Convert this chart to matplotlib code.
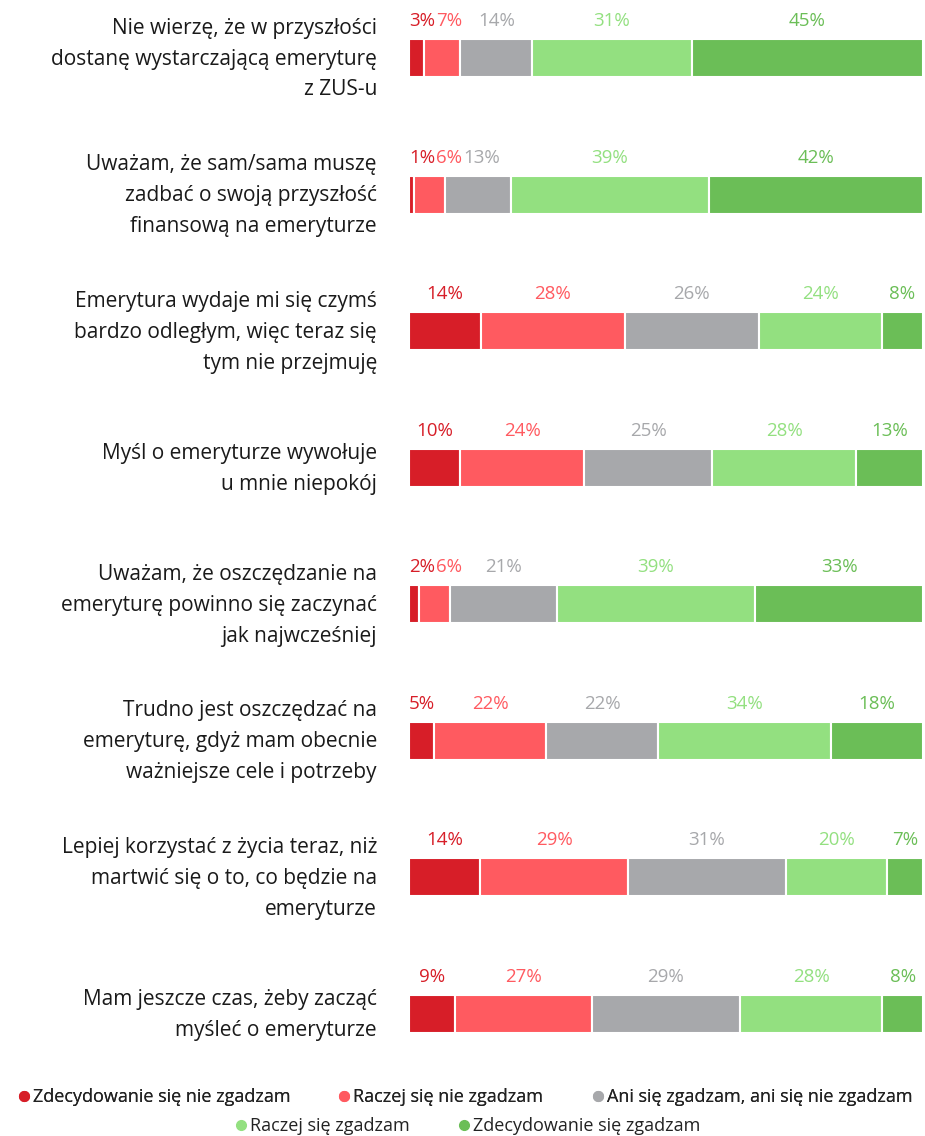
import matplotlib.pyplot as plt
from matplotlib.lines import Line2D
import numpy as np

plt.rcParams["font.family"] = ["Open Sans", "DejaVu Sans"]

statements = [
    "Nie wierzę, że w przyszłości\ndostanę wystarczającą emeryturę\nz ZUS-u",
    "Uważam, że sam/sama muszę\nzadbać o swoją przyszłość\nfinansową na emeryturze",
    "Emerytura wydaje mi się czymś\nbardzo odległym, więc teraz się\ntym nie przejmuję",
    "Myśl o emeryturze wywołuje\nu mnie niepokój",
    "Uważam, że oszczędzanie na\nemeryturę powinno się zaczynać\njak najwcześniej",
    "Trudno jest oszczędzać na\nemeryturę, gdyż mam obecnie\nważniejsze cele i potrzeby",
    "Lepiej korzystać z życia teraz, niż\nmartwić się o to, co będzie na\nemeryturze",
    "Mam jeszcze czas, żeby zacząć\nmyśleć o emeryturze",
]

categories = [
    "Zdecydowanie się nie zgadzam",
    "Raczej się nie zgadzam",
    "Ani się zgadzam, ani się nie zgadzam",
    "Raczej się zgadzam",
    "Zdecydowanie się zgadzam",
]

strongly_disagree = [3, 1, 14, 10, 2, 5, 14, 9]
disagree = [7, 6, 28, 24, 6, 22, 29, 27]
neutral = [14, 13, 26, 25, 21, 22, 31, 29]
agree = [31, 39, 24, 28, 39, 34, 20, 28]
strongly_agree = [45, 42, 8, 13, 33, 18, 7, 8]

colors = ["#d71e28", "#ff5a60", "#a7a8ab", "#93e080", "#6bbe57"]

W, H = 925, 1136
fig = plt.figure(figsize=(W / 100, H / 100), dpi=100)
# bars occupy x 409..923 px; y axis in pixels from top
ax = fig.add_axes([409 / W, 0, 514 / W, 1])
ax.set_xlim(0, 100)
ax.set_ylim(H, 0)
ax.axis("off")

values = np.array([strongly_disagree, disagree, neutral, agree, strongly_agree], dtype=float)
shares = values / values.sum(axis=0) * 100

row_top, row_step = 58, (1014 - 58) / 7
bar_h = 38
ypos = row_top + row_step * np.arange(len(statements))

lefts = np.zeros(len(statements))
for k in range(len(categories)):
    ax.barh(ypos, shares[k], left=lefts, height=bar_h, color=colors[k],
            edgecolor="white", linewidth=1.5)
    lefts += shares[k]

px = 100 / 514  # data units per pixel on x

for i, (y, text) in enumerate(zip(ypos, statements)):
    ax.text(-32 * px, y + 1, text, ha="right", va="center", fontsize=15,
            linespacing=1.62, color="#1a1a1a")

fig.canvas.draw()
renderer = fig.canvas.get_renderer()

for i, y in enumerate(ypos):
    start = 0.0
    prev_right = 0.0
    for k in range(len(categories)):
        center = start + shares[k][i] / 2
        t = ax.text(center, y - 37, f"{values[k][i]:.0f}%", ha="center",
                    va="center", fontsize=13.5, color=colors[k])
        bb = t.get_window_extent(renderer)
        half = (bb.x1 - bb.x0) / 2 * px
        left_edge = center - half
        min_left = max(0.0, prev_right + (1 * px if k else 0))
        if left_edge < min_left:
            center = min_left + half
            t.set_x(center)
        prev_right = center + half
        start += shares[k][i]

handles = [Line2D([], [], marker="o", linestyle="", markersize=7,
                  markerfacecolor=c, markeredgecolor=c) for c in colors]
leg_kw = dict(loc="center", frameon=False, fontsize=13, handletextpad=0.1,
              columnspacing=2.6, handlelength=0.8, borderaxespad=0)
leg1 = fig.legend(handles[:3], categories[:3], ncol=3,
                  bbox_to_anchor=(0.502, 1 - 1097 / H), **leg_kw)
fig.legend(handles[3:], categories[3:], ncol=2,
           bbox_to_anchor=(0.505, 1 - 1126 / H), **leg_kw)
fig.add_artist(leg1)
for leg in fig.legends:
    for txt in leg.get_texts():
        txt.set_color("#222222")

fig.savefig("out.png", dpi=100)
